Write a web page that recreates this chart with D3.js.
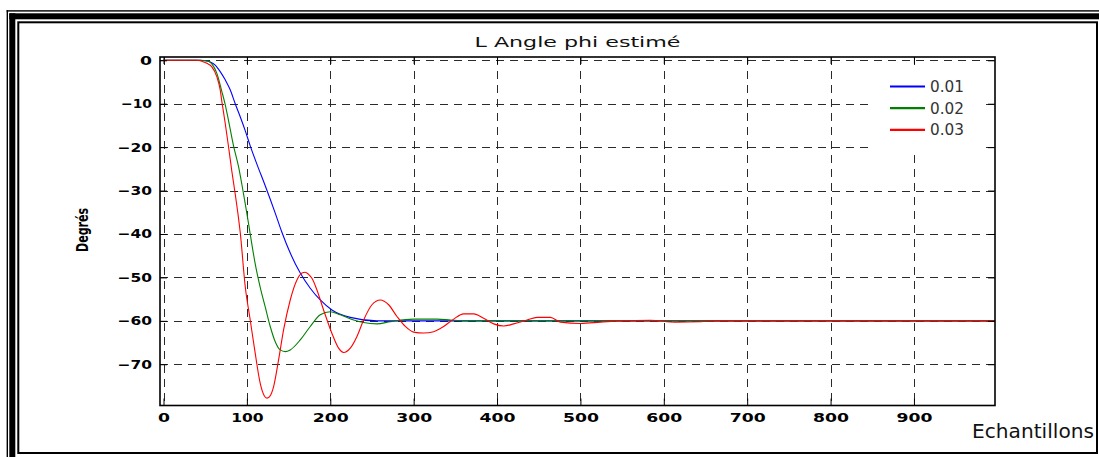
<!DOCTYPE html>
<html>
<head>
<meta charset="utf-8">
<script src="https://cdn.jsdelivr.net/npm/d3@7"></script>
<style>
  html, body { margin: 0; padding: 0; background: #fff; }
  svg { display: block; }
  text { font-family: "DejaVu Sans", "Liberation Sans", sans-serif; }
</style>
</head>
<body>
<svg id="chart" width="1099" height="457"></svg>
<script>
// Estimated phi angle (degrees) versus sample index, for three gain values.
const seriesNames = ["0.01", "0.02", "0.03"];
const seriesColors = ["#0000ff", "#008000", "#ff0000"];

const samples001 = [0, 44, 50, 56, 62, 68, 74, 80, 86, 92, 98, 104, 112, 122, 134, 142, 152, 164, 176, 188, 202, 224, 256, 300, 997];
const phi001 = [0, 0, -0.1, -0.4, -1.1, -2.6, -4.5, -6.8, -10.0, -13.0, -16.2, -19.7, -23.9, -28.9, -35.2, -39.6, -44.4, -49.0, -52.5, -55.2, -57.5, -59.2, -60.0, -60.0, -60.0];

const samples002 = [0, 44, 54, 60, 64, 70, 74, 78, 84, 90, 94, 98, 102, 106, 110, 116, 122, 128, 134, 140, 146, 152, 164, 176, 188, 200, 212, 228, 240, 256, 272, 300, 328, 344, 360, 997];
const phi002 = [0, 0, -0.2, -1.4, -3.0, -7.2, -10.2, -13.9, -19.7, -24.5, -28.6, -33.0, -37.6, -42.4, -46.9, -52.3, -56.8, -61.3, -64.8, -66.7, -67.1, -66.7, -64.4, -61.3, -58.6, -57.9, -58.6, -59.8, -60.4, -60.7, -60.2, -59.6, -59.6, -59.8, -60.0, -60.0];

const samples003 = [0, 40, 46, 52, 58, 64, 68, 70, 74, 78, 82, 86, 90, 92, 98, 104, 110, 116, 121, 124, 127, 132, 138, 144, 152, 160, 166, 170, 174, 178, 184, 192, 202, 210, 216, 224, 232, 240, 250, 260, 270, 280, 290, 300, 312, 324, 336, 348, 360, 372, 384, 396, 408, 420, 436, 448, 464, 476, 500, 524, 548, 584, 614, 644, 668, 997];
const phi003 = [0, 0, -0.2, -0.7, -1.5, -3.8, -6.8, -9.5, -14.5, -19.9, -25.6, -30.8, -36.4, -39.6, -52.1, -59.8, -67.5, -74.4, -77.3, -77.8, -77.5, -75.2, -69.0, -62.1, -55.2, -50.6, -49.0, -48.8, -49.3, -50.2, -52.9, -57.5, -62.9, -66.3, -67.3, -66.3, -63.6, -59.8, -56.3, -55.2, -56.3, -59.0, -61.3, -62.6, -62.8, -62.5, -61.3, -59.6, -58.4, -58.4, -59.4, -60.7, -61.2, -60.7, -59.8, -59.2, -59.2, -60.3, -60.6, -60.3, -60.0, -59.9, -60.3, -60.2, -60.0, -60.0];

const xTicks = [0, 100, 200, 300, 400, 500, 600, 700, 800, 900];
const yTicks = [0, -10, -20, -30, -40, -50, -60, -70];

const titleText = "L Angle phi estimé";
const xLabelText = "Echantillons";
const yLabelText = "Degrés";

const svg = d3.select("#chart");

// Decorative page border: thin + thick lines on top/left, inner box all round
const border = svg.append("g").attr("fill", "#000");
border.append("rect").attr("x", 6.6).attr("y", 10.2).attr("width", 1.4).attr("height", 457 - 10.2);
border.append("rect").attr("x", 6.6).attr("y", 10.2).attr("width", 1099 - 6.6).attr("height", 1.4);
border.append("rect").attr("x", 9.3).attr("y", 13.3).attr("width", 6).attr("height", 457 - 13.3);
border.append("rect").attr("x", 9.3).attr("y", 13.3).attr("width", 1099 - 9.3).attr("height", 6);
svg.append("rect")
  .attr("x", 18.3).attr("y", 22.3).attr("width", 1097 - 18.3).attr("height", 453 - 22.3)
  .attr("fill", "none").attr("stroke", "#000").attr("stroke-width", 2);

// Plot area
const plotL = 160, plotR = 995, plotT = 57, plotB = 405.5;
const x = d3.scaleLinear().domain([-4.2, 997.2]).range([plotL, plotR]);
const y = d3.scaleLinear().domain([-79.5, 0.76]).range([plotB, plotT]);

// Character widths for the wide tick-label typeface
const charW = { "-": 10.5, "\u2212": 10.5, "1": 8.5, ".": 5 };
const labelLen = s => Array.from(s).reduce((a, c) => a + (charW[c] !== undefined ? charW[c] : 12), 0);

// Grid
const grid = svg.append("g").attr("stroke", "#2a2a2a").attr("stroke-width", 1).attr("stroke-dasharray", "8,6").attr("fill", "none");
grid.selectAll("line.v").data(xTicks).join("line").attr("class", "v")
  .attr("x1", d => Math.round(x(d)) + 0.5).attr("x2", d => Math.round(x(d)) + 0.5)
  .attr("y1", plotT).attr("y2", plotB);
grid.selectAll("line.h").data(yTicks).join("line").attr("class", "h")
  .attr("y1", d => Math.round(y(d)) + 0.5).attr("y2", d => Math.round(y(d)) + 0.5)
  .attr("x1", plotL).attr("x2", plotR);

// Series lines
const allSeries = [
  { name: seriesNames[0], color: seriesColors[0], xs: samples001, ys: phi001 },
  { name: seriesNames[1], color: seriesColors[1], xs: samples002, ys: phi002 },
  { name: seriesNames[2], color: seriesColors[2], xs: samples003, ys: phi003 }
];
const line = d3.line().x(d => x(d[0])).y(d => y(d[1])).curve(d3.curveMonotoneX);
svg.append("g").selectAll("path").data(allSeries).join("path")
  .attr("d", s => line(s.xs.map((v, i) => [v, s.ys[i]])))
  .attr("fill", "none").attr("stroke", s => s.color).attr("stroke-width", 1.1);

// Legend (white box without border)
const legend = svg.append("g");
legend.append("rect").attr("x", 873).attr("y", 67).attr("width", 112).attr("height", 85).attr("fill", "#fff");
const legRows = legend.selectAll("g.row").data(allSeries).join("g").attr("class", "row")
  .attr("transform", (d, i) => `translate(0,${86.5 + i * 21.7})`);
legRows.append("line").attr("x1", 890).attr("x2", 925).attr("y1", 0).attr("y2", 0)
  .attr("stroke", d => d.color).attr("stroke-width", 2.2);
legRows.append("text").attr("x", 930).attr("y", 5.5)
  .attr("font-size", 15).attr("fill", "#333")
  .attr("textLength", 34).attr("lengthAdjust", "spacingAndGlyphs")
  .text(d => d.name);

// Axes: left / bottom with labels, plus mirrored ticks on top / right (ticks inward)
const tickLen = 7;
const xAxisB = d3.axisBottom(x).tickValues(xTicks).tickSize(-tickLen).tickPadding(8).tickFormat(d3.format("d"));
const yAxisL = d3.axisLeft(y).tickValues(yTicks).tickSize(-tickLen).tickPadding(8).tickFormat(d3.format("d"));
const xAxisT = d3.axisTop(x).tickValues(xTicks).tickSize(-tickLen).tickFormat("");
const yAxisR = d3.axisRight(y).tickValues(yTicks).tickSize(-tickLen).tickFormat("");

function styleAxis(g) {
  g.select(".domain").remove();
  g.selectAll(".tick line").attr("stroke", "#000").attr("stroke-width", 1);
}
const gx = svg.append("g").attr("transform", `translate(0,${plotB})`).call(xAxisB).call(styleAxis);
const gy = svg.append("g").attr("transform", `translate(${plotL},0)`).call(yAxisL).call(styleAxis);
svg.append("g").attr("transform", `translate(0,${plotT})`).call(xAxisT).call(styleAxis);
svg.append("g").attr("transform", `translate(${plotR},0)`).call(yAxisR).call(styleAxis);

[gx, gy].forEach(g => g.selectAll(".tick text")
  .attr("font-size", 12.5).attr("fill", "#000")
  .attr("font-family", "'Open Sans', 'DejaVu Sans', sans-serif").attr("font-weight", 600)
  .each(function() {
    const t = d3.select(this);
    t.attr("textLength", labelLen(t.text())).attr("lengthAdjust", "spacingAndGlyphs");
  }));
gx.selectAll(".tick text").attr("dy", "0.66em");

// Box around plot area
svg.append("rect").attr("x", plotL).attr("y", plotT).attr("width", plotR - plotL).attr("height", plotB - plotT)
  .attr("fill", "none").attr("stroke", "#000").attr("stroke-width", 1.6);

// Title and axis labels
svg.append("text").attr("x", (plotL + plotR) / 2).attr("y", 47).attr("text-anchor", "middle")
  .attr("font-size", 14).attr("fill", "#111")
  .attr("textLength", 206).attr("lengthAdjust", "spacingAndGlyphs")
  .text(titleText);
svg.append("text").attr("x", 972).attr("y", 438)
  .attr("font-size", 19).attr("fill", "#111").attr("font-family", "'Open Sans', 'DejaVu Sans', sans-serif")
  .attr("textLength", 122).attr("lengthAdjust", "spacingAndGlyphs")
  .text(xLabelText);
svg.append("text").attr("transform", "translate(88,230) rotate(-90)").attr("text-anchor", "middle")
  .attr("font-size", 16).attr("font-weight", "bold").attr("fill", "#000")
  .attr("textLength", 44).attr("lengthAdjust", "spacingAndGlyphs")
  .text(yLabelText);
</script>
</body>
</html>
